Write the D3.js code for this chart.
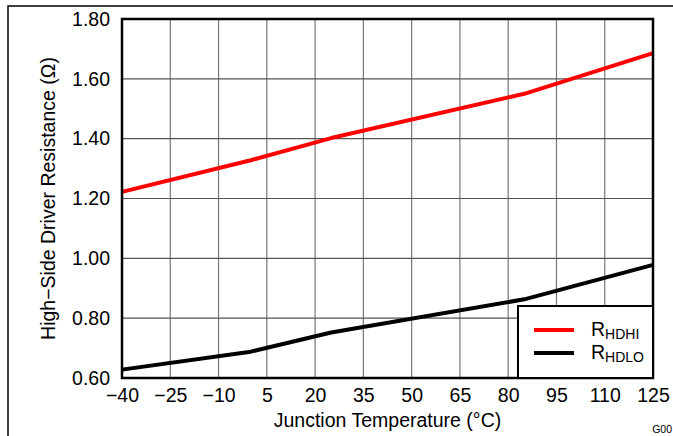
<!DOCTYPE html>
<html>
<head>
<meta charset="utf-8">
<script src="https://cdn.jsdelivr.net/npm/d3@7"></script>
<style>
  body { margin: 0; background: #fff; }
  text { font-family: "Liberation Sans", Arial, sans-serif; fill: #000; }
</style>
</head>
<body>
<script>
// data
const temps = [-40, 0, 25, 85, 125];
const rHDHI = [1.222, 1.328, 1.402, 1.55, 1.686];
const rHDLO = [0.628, 0.688, 0.752, 0.863, 0.978];
const xTicks = [-40, -25, -10, 5, 20, 35, 50, 65, 80, 95, 110, 125];
const yTicks = [0.6, 0.8, 1.0, 1.2, 1.4, 1.6, 1.8];
const seriesNames = ["HDHI", "HDLO"];
const colors = ["#ff0000", "#000000"];

const W = 673, H = 436;
const margin = { top: 19, right: 20, bottom: 58, left: 122 },
  width = W - margin.left - margin.right,
  height = H - margin.top - margin.bottom;
const fs = "19.5px";

const root = d3.select("body").append("svg")
  .attr("width", W).attr("height", H);

// outer frame (left + top edges only)
root.append("path")
  .attr("d", `M8,${H} L8,6 L${W},6`)
  .attr("fill", "none").attr("stroke", "#000").attr("stroke-width", 1.5);

const svg = root.append("g")
  .attr("transform", `translate(${margin.left},${margin.top})`);

const x = d3.scaleLinear().domain([-40, 125]).range([0, width]);
const y = d3.scaleLinear().domain([0.6, 1.8]).range([height, 0]);

// grid
svg.append("g").selectAll("line.gx").data(xTicks).enter().append("line")
  .attr("x1", d => x(d)).attr("x2", d => x(d))
  .attr("y1", 0).attr("y2", height)
  .attr("stroke", "#777").attr("stroke-width", 1.2);
svg.append("g").selectAll("line.gy").data(yTicks).enter().append("line")
  .attr("x1", 0).attr("x2", width)
  .attr("y1", d => y(d)).attr("y2", d => y(d))
  .attr("stroke", "#555").attr("stroke-width", 1.2);

// axes (labels only)
const axisB = svg.append("g")
  .attr("transform", `translate(0,${height})`)
  .call(d3.axisBottom(x).tickValues(xTicks).tickSize(0).tickPadding(10));
axisB.select(".domain").remove();
axisB.selectAll("text").style("font-size", fs)
  .style("font-family", "Liberation Sans, Arial, sans-serif");

const axisL = svg.append("g")
  .call(d3.axisLeft(y).tickValues(yTicks).tickFormat(d3.format(".2f")).tickSize(0).tickPadding(12));
axisL.select(".domain").remove();
axisL.selectAll("text").style("font-size", fs)
  .style("font-family", "Liberation Sans, Arial, sans-serif");

// lines
const line = d3.line()
  .x((d, i) => x(temps[i]))
  .y(d => y(d));
[rHDHI, rHDLO].forEach((s, i) => {
  svg.append("path")
    .datum(s)
    .attr("fill", "none")
    .attr("stroke", colors[i])
    .attr("stroke-width", 4)
    .attr("stroke-linejoin", "round")
    .attr("d", line);
});

// plot border
svg.append("rect")
  .attr("x", 0).attr("y", 0).attr("width", width).attr("height", height)
  .attr("fill", "none").attr("stroke", "#000").attr("stroke-width", 2.5);

// legend
const lg = svg.append("g").attr("transform", `translate(${width - 135},${height - 72})`);
lg.append("rect")
  .attr("width", 135).attr("height", 72)
  .attr("fill", "#fff").attr("stroke", "#000").attr("stroke-width", 2);
seriesNames.forEach((n, i) => {
  const yy = 24 + i * 23;
  lg.append("line")
    .attr("x1", 16).attr("x2", 56).attr("y1", yy).attr("y2", yy)
    .attr("stroke", colors[i]).attr("stroke-width", 4);
  const t = lg.append("text")
    .attr("x", 73).attr("y", yy + 6)
    .style("font-size", fs);
  t.append("tspan").text("R");
  t.append("tspan").attr("dy", 3).style("font-size", "14px").text(n);
});

// axis titles
svg.append("text")
  .attr("x", width / 2).attr("y", height + 49)
  .attr("text-anchor", "middle")
  .style("font-size", fs)
  .text("Junction Temperature (°C)");

svg.append("text")
  .attr("transform", "rotate(-90)")
  .attr("x", -height / 2).attr("y", -67)
  .attr("text-anchor", "middle")
  .style("font-size", fs)
  .text("High−Side Driver Resistance (Ω)");

root.append("text")
  .attr("x", 672).attr("y", 433)
  .attr("text-anchor", "end")
  .style("font-size", "10.5px")
  .text("G00");
</script>
</body>
</html>
